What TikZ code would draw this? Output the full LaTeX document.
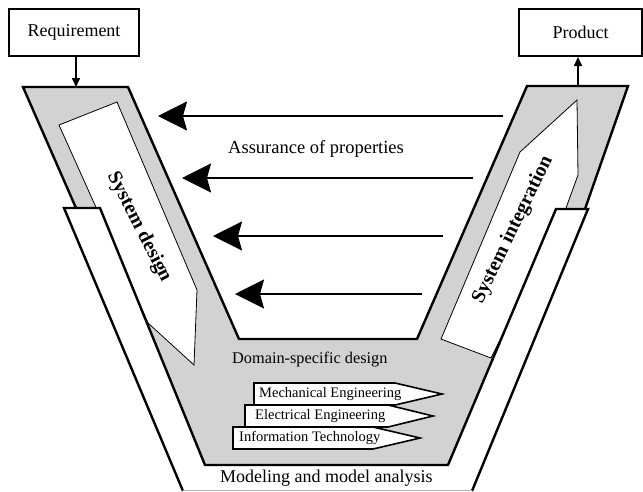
\documentclass[tikz,border=0pt]{standalone}
\usepackage{fontspec}
\setmainfont{Liberation Serif}
\usetikzlibrary{arrows.meta}

\definecolor{vgray}{RGB}{210,210,210}
\tikzset{
  outline/.style={line width=2.4pt, line join=miter},
  whitearrow/.style={fill=white, draw=black, line width=0.8pt},
  endbox/.style={draw, line width=2pt, minimum width=130pt, minimum height=47pt, inner sep=0pt, font=\fontsize{18}{20}\selectfont},
  feedback/.style={line width=2pt, -{Stealth[length=29pt,width=29pt,inset=4pt]}},
  inout/.style={line width=1.6pt, -{Triangle[length=9pt,width=8pt]}},
  domainbox/.style={fill=white, draw=black, line width=1.6pt},
  domaintext/.style={anchor=west, inner sep=0pt, font=\fontsize{14.5}{16}\selectfont},
  plain/.style={anchor=west, inner sep=0pt, font=\fontsize{18}{20}\selectfont},
  phase/.style={inner sep=0pt, font=\bfseries\fontsize{20}{22}\selectfont},
}

\begin{document}
\begin{tikzpicture}[x=1pt,y=-1pt]
\useasboundingbox (0,0) rectangle (643,491);

%gray V
\fill[vgray] (23,87) -- (128,87) -- (239,339) -- (417,339) -- (527,86) -- (628,86) -- (585,209) -- (556,209) -- (448,465) -- (205,465) -- (100,208) -- (76,208) -- cycle;
\draw[outline] (76,208) -- (23,87) -- (128,87) -- (239,339) -- (417,339) -- (527,86) -- (628,86) -- (585,209);

%phase arrows
\draw[whitearrow] (59,125) -- (117,102) -- (197,290) -- (194,365) -- (148,323) -- cycle;
\draw[whitearrow] (441,339) -- (520,152) -- (577,100) -- (578,175) -- (566,208) -- (491,358) -- cycle;

%modeling band
\draw[outline, fill=white] (183,491) -- (64,208) -- (100,208) -- (205,465) -- (448,465) -- (556,209) -- (588,209) -- (472,491);
\draw[gray!60, line width=0.8pt] (183,490) -- (472,490);

\node[phase, rotate=-63] (design) at (139,227) {System design};
\node[phase, rotate=64] (integ) at (513,230) {System integration};

%start and end
\node[endbox] (req) at (74,32.5) {Requirement};
\node[endbox, minimum width=123pt] (prod) at (580.5,32.5) {Product};
\coordinate (reqin) at (76,87);
\coordinate (prodout) at (578,86);
\draw[inout] (reqin |- req.south) -- (reqin);
\draw[inout] (prodout) -- (prodout |- prod.south);

%assurance arrows
\coordinate (r1) at (503,116); \coordinate (l1) at (158,116);
\coordinate (r2) at (473,178); \coordinate (l2) at (182,178);
\coordinate (r3) at (443,236); \coordinate (l3) at (213,236);
\coordinate (r4) at (422,294); \coordinate (l4) at (235,294);
\draw[feedback] (r1) -- (l1);
\draw[feedback] (r2) -- (l2);
\draw[feedback] (r3) -- (l3);
\draw[feedback] (r4) -- (l4);
\node[plain, font=\fontsize{18.5}{20}\selectfont] (assure) at (228,149) {Assurance of properties};

%domains
\node[plain, font=\fontsize{16.3}{18}\selectfont] (domain) at (232,360) {Domain-specific design};
\draw[domainbox] (254,383) -- (395,383) -- (442,394) -- (395,405) -- (254,405) -- cycle;
\draw[domainbox] (245,405) -- (388,405) -- (433,416) -- (388,427) -- (245,427) -- cycle;
\draw[domainbox] (233,427) -- (373,427) -- (420,438) -- (373,449) -- (233,449) -- cycle;
\node[domaintext] (mech) at (259,394) {Mechanical Engineering};
\node[domaintext] (elec) at (255,416) {Electrical Engineering};
\node[domaintext] (info) at (239,438) {Information Technology};

\node[plain] (model) at (220,478) {Modeling and model analysis};

\end{tikzpicture}
\end{document}
